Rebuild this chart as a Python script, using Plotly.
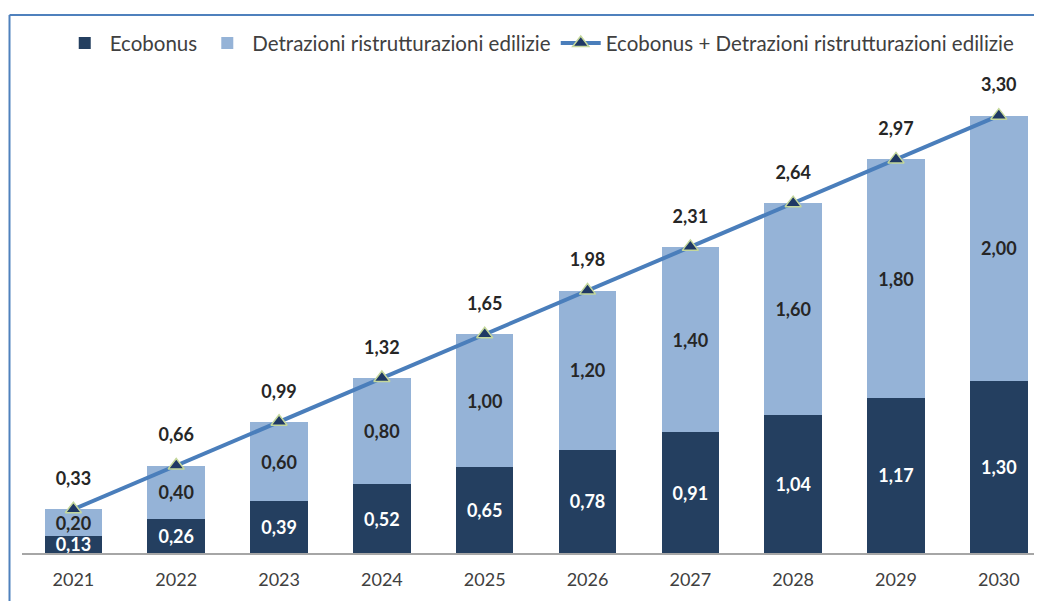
import plotly.graph_objects as go

YEARS = ["2021", "2022", "2023", "2024", "2025", "2026", "2027", "2028", "2029", "2030"]
ECOBONUS = [0.13, 0.26, 0.39, 0.52, 0.65, 0.78, 0.91, 1.04, 1.17, 1.30]
DETRAZIONI = [0.20, 0.40, 0.60, 0.80, 1.00, 1.20, 1.40, 1.60, 1.80, 2.00]
TOTALE = [0.33, 0.66, 0.99, 1.32, 1.65, 1.98, 2.31, 2.64, 2.97, 3.30]

DARK = "#243F60"
LIGHT = "#95B3D7"
LINE = "#4A7EBB"
BORDER = "#4F81BD"
FONT = "Lato, Open Sans, sans-serif"


def fmt(v):
    return f"{v:.2f}".replace(".", ",")


fig = go.Figure()

fig.add_trace(
    go.Bar(
        x=YEARS,
        y=ECOBONUS,
        name="Ecobonus",
        marker=dict(color=DARK, line=dict(width=0)),
        text=[fmt(v) for v in ECOBONUS],
        textposition="inside",
        insidetextanchor="middle",
        textangle=0,
        constraintext="none",
        textfont=dict(color="white", size=18, family=FONT, weight="bold"),
    )
)
fig.add_trace(
    go.Bar(
        x=YEARS,
        y=DETRAZIONI,
        name="Detrazioni ristrutturazioni edilizie",
        marker=dict(color=LIGHT, line=dict(width=0)),
        text=[fmt(v) for v in DETRAZIONI],
        textposition="inside",
        insidetextanchor="middle",
        textangle=0,
        constraintext="none",
        textfont=dict(color="#262626", size=18, family=FONT, weight="bold"),
    )
)
fig.add_trace(
    go.Scatter(
        x=YEARS,
        y=TOTALE,
        name="Ecobonus + Detrazioni ristrutturazioni edilizie",
        mode="lines+markers",
        line=dict(color=LINE, width=4),
        marker=dict(symbol="triangle-up", size=14, color="#1F3864",
                    line=dict(color="#C4D79B", width=1.5)),
    )
)
# total labels above the markers (invisible markers push the text up)
fig.add_trace(
    go.Scatter(
        x=YEARS,
        y=TOTALE,
        mode="markers+text",
        text=[fmt(v) for v in TOTALE],
        textposition="top center",
        marker=dict(size=30, opacity=0),
        textfont=dict(color="#262626", size=18, family=FONT, weight="bold"),
        showlegend=False,
        hoverinfo="skip",
    )
)

fig.update_layout(
    width=1034,
    height=593,
    barmode="stack",
    bargap=0.44,
    separators=",.",
    plot_bgcolor="white",
    paper_bgcolor="white",
    margin=dict(l=14, r=0, t=52, b=48),
    font=dict(family=FONT, size=18, color="#404040"),
    showlegend=True,
    legend=dict(
        orientation="h",
        x=0.037,
        y=1.034,
        xanchor="left",
        yanchor="middle",
        font=dict(size=20.5, color="#404040"),
        traceorder="normal",
        itemwidth=40,
    ),
    xaxis=dict(
        range=[-0.5, 9.42],
        showline=True,
        linecolor="#A6A6A6",
        linewidth=1.5,
        ticks="",
        showgrid=False,
        tickfont=dict(size=18, color="#404040"),
        ticklabelstandoff=10,
    ),
    yaxis=dict(range=[0, 3.72], visible=False, showgrid=False),
    shapes=[
        dict(type="line", xref="paper", yref="paper", x0=-0.01225, x1=1.05,
             y0=1.0913, y1=1.0913, line=dict(color=BORDER, width=2)),
        dict(type="line", xref="paper", yref="paper", x0=-0.01225, x1=-0.01225,
             y0=-0.2, y1=1.0913, line=dict(color=BORDER, width=2)),
    ],
)

fig.write_html("out.html")
